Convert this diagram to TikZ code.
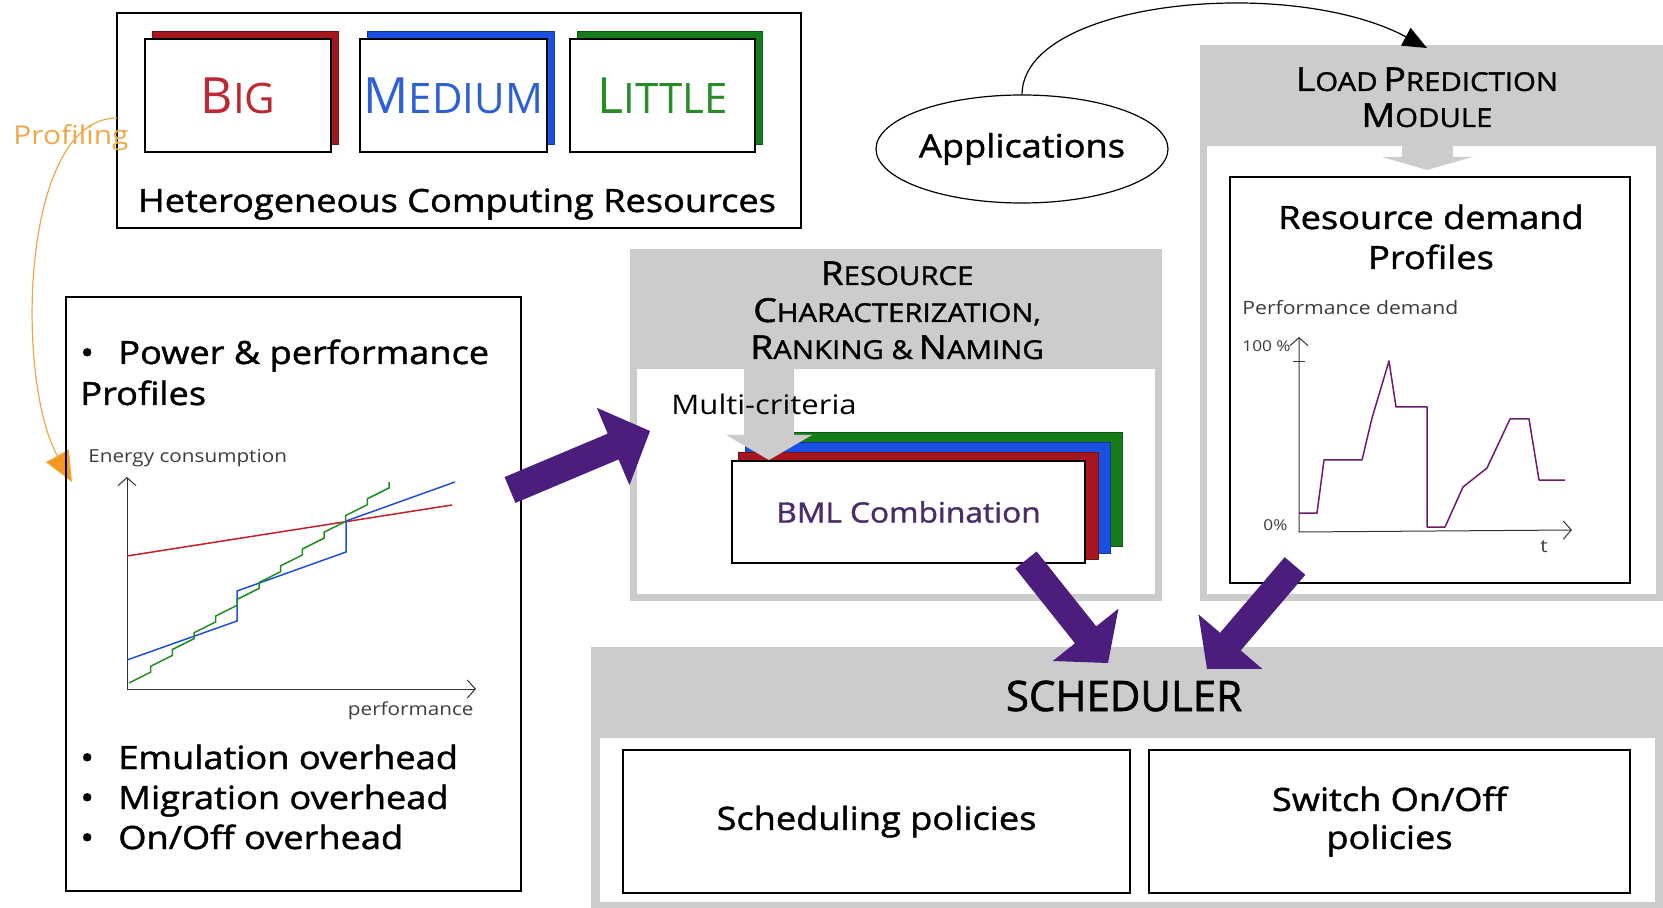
\documentclass[tikz,border=0pt]{standalone}
\usepackage{fontspec}
\setmainfont{Open Sans}[FakeStretch=1.15]
\newfontfamily\capsf{Open Sans}
\newfontfamily\medf{Open Sans}[FakeStretch=1.13,FakeBold=1.4]
\newfontfamily\medcapsf{Open Sans}[FakeBold=1.4]
\usetikzlibrary{fit,calc,arrows.meta,shapes.geometric}
\definecolor{bigred}{RGB}{165,22,30}
\definecolor{bigtxt}{RGB}{190,40,48}
\definecolor{medblue}{RGB}{25,80,225}
\definecolor{medtxt}{RGB}{45,95,215}
\definecolor{litgreen}{RGB}{20,125,25}
\definecolor{littxt}{RGB}{40,140,40}
\definecolor{purp}{RGB}{75,30,125}
\definecolor{curvep}{RGB}{110,25,110}
\definecolor{orng}{RGB}{238,168,70}
\definecolor{orngh}{RGB}{245,150,30}
\definecolor{lgray}{RGB}{204,204,204}
\definecolor{bmltxt}{RGB}{75,45,105}
\definecolor{lbl}{RGB}{60,60,60}
\newcommand\mysc[4]{{\fontsize{#1}{#1}\selectfont #3\fontsize{#2}{#1}\selectfont #4}}
\newcommand\fatarrow[6]{%
  \coordinate (#1h) at ($(#3)!#6!(#2)$);
  \fill[purp] ($(#2)!#4!90:(#3)$) -- ($(#1h)!#4!-90:(#2)$) -- ($(#1h)!#5!-90:(#2)$) -- (#3)
    -- ($(#1h)!#5!90:(#2)$) -- ($(#1h)!#4!90:(#2)$) -- ($(#2)!#4!-90:(#3)$) -- cycle;}
\begin{document}
\begin{tikzpicture}[x=0.5pt,y=-0.5pt,
  panel/.style={fill=lgray, inner sep=0pt, outer sep=0pt},
  wpanel/.style={fill=white, inner sep=0pt, outer sep=0pt},
  box/.style={draw=black, fill=white, line width=0.6pt, inner sep=0pt, outer sep=0pt},
  shadow/.style={fill=#1, draw=#1!70!black, line width=0.5pt, inner sep=0pt, outer sep=0pt},
  big/.style={font=\medf\fontsize{16}{20}\selectfont},
  hdr/.style={font=\medf, anchor=base, inner sep=0pt},
  lab/.style={text=lbl, inner sep=0pt},
  chartaxis/.style={draw=black!80, line width=0.5pt},
  barb/.style={{Straight Barb[length=4pt,width=9pt]}-{Straight Barb[length=4pt,width=9pt]}},
  curve/.style={line width=0.75pt}]
\useasboundingbox (0,0) rectangle (1663,908);

% ---------- heterogeneous resources ----------
\node[box, fill=none, fit={(117,13) (801,228)}] (het) {};
\node[shadow=bigred, fit={(152,32) (338,145)}] (bigsh) {};
\node[box, fit={(145,39) (331,152)}] (big) {};
\node[text=bigtxt, font=\capsf, inner sep=0pt] (bigt) at (big.center) {\mysc{25pt}{21pt}{B}{IG}};
\node[shadow=medblue, fit={(367,32) (554,145)}] (medsh) {};
\node[box, fit={(360,39) (547,152)}] (med) {};
\node[text=medtxt, font=\capsf, inner sep=0pt] (medt) at (med.center) {\mysc{25pt}{21pt}{M}{EDIUM}};
\node[shadow=litgreen, fit={(577,32) (762,145)}] (litsh) {};
\node[box, fit={(570,39) (755,152)}] (lit) {};
\node[text=littxt, font=\capsf, inner sep=0pt] (litt) at (lit.center) {\mysc{25pt}{21pt}{L}{ITTLE}};
\node[big, anchor=base, inner sep=0pt] (hettxt) at (457,212) {Heterogeneous Computing Resources};

% ---------- profiling ----------
\node[text=orng, font=\fontsize{13}{15}\selectfont, anchor=west, inner sep=0pt] (prof) at (13,138) {Profiling};
\coordinate (profstart) at (117,118);
\coordinate (proftip) at (72,482);
\draw[orng, line width=0.6pt, -{Triangle[length=15pt,width=13pt,fill=orngh]}]
  (profstart) .. controls (20,118) and (15,380) .. (proftip);

% ---------- power profiles box ----------
\node[box, fill=none, fit={(66,297) (521,891)}] (pbox) {};
\node[big, anchor=base west, inner sep=0pt] (p1) at (80,364) {\makebox[19pt][l]{\textbullet}Power \& performance};
\node[big, anchor=base west, inner sep=0pt] (p2) at (80,405) {Profiles};
\node[big, anchor=base west, inner sep=0pt] (p3) at (80,769) {\makebox[19pt][l]{\textbullet}Emulation overhead};
\node[big, anchor=base west, inner sep=0pt] (p4) at (80,809) {\makebox[19pt][l]{\textbullet}Migration overhead};
\node[big, anchor=base west, inner sep=0pt] (p5) at (80,849) {\makebox[19pt][l]{\textbullet}On/Off overhead};
\node[lab, font=\fontsize{9}{11}\selectfont, anchor=base west] (ec) at (88,463) {Energy consumption};
\node[lab, font=\fontsize{9}{11}\selectfont, anchor=base east] (pf) at (474,715) {performance};
\coordinate (o1) at (127,689);
\coordinate (y1) at (127,477);
\coordinate (x1) at (476,689);
\draw[chartaxis, barb] (y1) -- (o1) -- (x1);
\draw[curve, draw={rgb,255:red,200;green,30;blue,40}] (127,556) -- (452,505);
\draw[curve, draw={rgb,255:red,30;green,80;blue,210}] (127,660) -- (237,621) -- (237,591) -- (346,552) -- (346,521) -- (455,482);
\draw[curve, draw={rgb,255:red,30;green,140;blue,30}] (129,683) \foreach \i in {1,...,12} { -- ++(21.67,-10.83) -- ++(0,-5.92) };

% ---------- resource characterization ----------
\node[panel, fit={(630,249) (1162,601)}] (rc) {};
\node[wpanel, fit={(637,369) (1155,594)}] (rcin) {};
\node[hdr] (rch1) at (897,285) {\mysc{16.5pt}{13pt}{R}{ESOURCE}};
\node[hdr] (rch2) at (897,322) {\mysc{16.5pt}{13pt}{C}{HARACTERIZATION,}};
\node[hdr] (rch3) at (897,359) {\mysc{16.5pt}{13pt}{R}{ANKING \&} \mysc{16.5pt}{13pt}{N}{AMING}};
\node[shadow=litgreen, fit={(751,433) (1122,546)}] (bgreen) {};
\node[shadow=medblue, fit={(745,443) (1110,553)}] (bblue) {};
\node[shadow=bigred, fit={(738,453) (1098,559)}] (bred) {};
\node[box, fit={(732,461) (1085,563)}] (bml) {};
\node[text=bmltxt, font=\medf\fontsize{14}{16}\selectfont, inner sep=0pt] (bmlt) at (bml.center) {BML Combination};
\fill[lgray] (744,360) -- (794,360) -- (794,435) -- (812,435) -- (769,460) -- (726,435) -- (744,435) -- cycle;
\node[anchor=west, inner sep=0pt, font=\fontsize{13.5}{16}\selectfont] (mc) at (671,404) {Multi-criteria};

% ---------- load prediction ----------
\node[panel, fit={(1200,45) (1663,601)}] (lp) {};
\node[wpanel, fit={(1207,146) (1656,594)}] (lpin) {};
\node[hdr] (lph1) at (1427,91) {\mysc{16.5pt}{13pt}{L}{OAD} \mysc{16.5pt}{13pt}{P}{REDICTION}};
\node[hdr] (lph2) at (1427,127) {\mysc{16.5pt}{13pt}{M}{ODULE}};
\fill[lgray] (1402,140) -- (1453,140) -- (1453,157) -- (1472,157) -- (1427,170) -- (1382,157) -- (1402,157) -- cycle;
\node[box, fit={(1230,177) (1630,583)}] (rd) {};
\node[big, anchor=base, inner sep=0pt] (rdt1) at (1431,229) {Resource demand};
\node[big, anchor=base, inner sep=0pt] (rdt2) at (1431,269) {Profiles};
\node[lab, font=\fontsize{9.2}{11}\selectfont, anchor=base west] (pd) at (1242,315) {Performance demand};
\node[lab, font=\fontsize{7.5}{9}\selectfont, anchor=base west] (hp) at (1242,352) {100 \%};
\node[lab, font=\fontsize{7.5}{9}\selectfont, anchor=base west] (zp) at (1263,530) {0\%};
\node[lab, font=\fontsize{9}{11}\selectfont, anchor=base west] (tt) at (1540,552) {t};
\coordinate (o2) at (1299,532);
\coordinate (y2) at (1299,337);
\coordinate (x2) at (1572,530);
\draw[chartaxis, barb] (y2) -- (o2) -- (x2);
\draw[chartaxis] (1293,362) -- (1305,362);
\draw[curve, curvep, line join=round] (1299,513) -- (1317,513) -- (1324,460) -- (1362,460) -- (1372,418) -- (1389,361) -- (1396,407) -- (1427,407) -- (1427,527) -- (1445,527) -- (1463,487) -- (1487,468) -- (1510,419) -- (1529,419) -- (1539,480) -- (1565,480);

% ---------- applications ----------
\node[ellipse, draw=black, line width=0.6pt, minimum width=146pt, minimum height=54pt, inner sep=0pt] (apps) at (1022,149) {};
\node[big, inner sep=0pt] (appst) at (apps.center) {Applications};
\coordinate (lptop) at (1427,48);
\draw[line width=0.6pt, -{Triangle[length=12pt,width=10pt]}] (apps.north) .. controls (1023,0) and (1290,-25) .. (lptop);

% ---------- scheduler ----------
\node[panel, fit={(591,647) (1663,908)}] (sch) {};
\node[wpanel, fit={(600,738) (1655,902)}] (schin) {};
\node[anchor=base, inner sep=0pt, font=\medcapsf\fontsize{21}{24}\selectfont] (scht) at (1124,711) {SCHEDULER};
\node[box, fit={(623,750) (1130,893)}] (sp) {};
\node[big, inner sep=0pt] (spt) at (sp.center) {Scheduling policies};
\node[box, fit={(1149,750) (1630,893)}] (so) {};
\node[big, align=center, inner sep=0pt] (sot) at (so.center) {Switch On/Off\\[-1pt]policies};

% ---------- purple arrows ----------
\coordinate (a1t) at (510,490);
\coordinate (a1p) at (650,431);
\fatarrow{A}{a1t}{a1p}{7pt}{21pt}{20pt}
\coordinate (a2t) at (1026,560);
\coordinate (a2p) at (1108,663);
\fatarrow{B}{a2t}{a2p}{6.8pt}{21pt}{18pt}
\coordinate (a3t) at (1295,566);
\coordinate (a3p) at (1207,669);
\fatarrow{C}{a3t}{a3p}{6.8pt}{21pt}{18pt}
\end{tikzpicture}
\end{document}
